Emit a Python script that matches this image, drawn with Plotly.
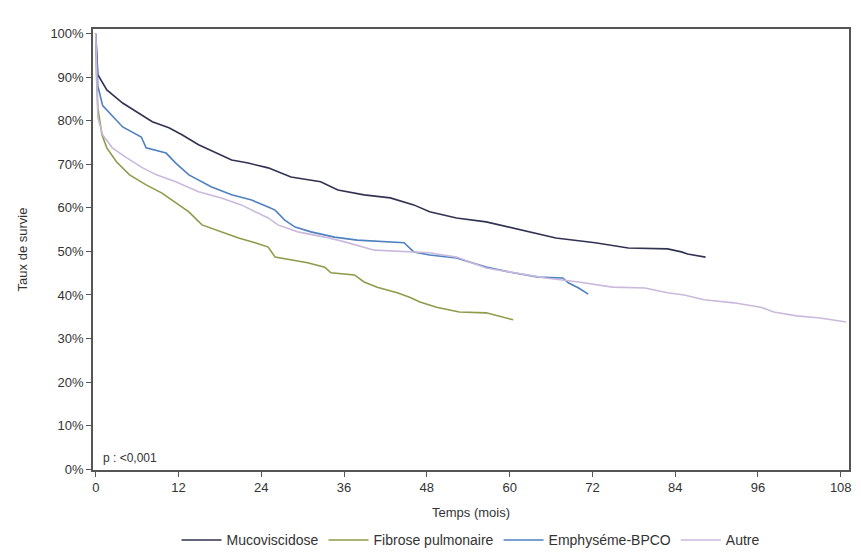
import plotly.graph_objects as go

# --- Data (months, survival %) ---
muco_t = [0, 0.3, 1.6, 3.9, 5.9, 8.2, 10.6, 12.5, 14.9, 17.4, 19.7, 22.1, 25.0, 28.3, 32.6, 35.1,
          38.9, 42.7, 46.1, 48.4, 52.3, 56.6, 61.9, 66.7, 72.4, 77.2, 82.9, 84.9, 85.8, 88.4]
muco_s = [100, 90.6, 87.1, 84.1, 82.1, 79.8, 78.4, 76.8, 74.5, 72.6, 71.0, 70.3, 69.2, 67.1, 66.0, 64.1,
          63.0, 62.3, 60.7, 59.1, 57.7, 56.8, 54.9, 53.1, 52.0, 50.8, 50.6, 49.9, 49.4, 48.7]

fibro_t = [0, 0.1, 0.3, 0.9, 1.6, 3.0, 4.9, 7.3, 9.6, 11.6, 13.5, 15.4, 18.2, 20.7, 23.1, 25.0, 26.0,
           28.9, 30.7, 33.2, 34.1, 37.5, 38.9, 40.8, 43.7, 45.5, 47.0, 49.4, 52.7, 56.6, 59.0, 60.5]
fibro_s = [100, 90.6, 83.0, 76.8, 73.8, 70.6, 67.6, 65.3, 63.4, 61.1, 59.1, 56.1, 54.5, 53.1, 52.0, 51.0, 48.7,
           48.0, 47.4, 46.4, 45.1, 44.6, 43.0, 41.8, 40.5, 39.5, 38.4, 37.2, 36.1, 35.9, 35.0, 34.3]

emph_t = [0, 0.3, 1.0, 2.0, 3.9, 6.6, 7.3, 10.2, 11.6, 13.5, 16.8, 19.7, 22.6, 25.0, 26.0, 27.4, 28.9,
          31.2, 34.6, 37.9, 41.8, 44.7, 46.1, 48.4, 52.3, 56.6, 60.5, 64.2, 67.7, 68.5, 70.0, 71.4]
emph_s = [100, 88.0, 83.5, 81.8, 78.6, 76.3, 73.8, 72.6, 70.3, 67.6, 64.8, 63.0, 61.8, 60.2, 59.5, 57.2, 55.6,
          54.5, 53.3, 52.6, 52.2, 52.0, 49.9, 49.2, 48.5, 46.4, 45.1, 44.1, 43.9, 42.8, 41.6, 40.2]

autre_t = [0, 0.3, 1.0, 2.4, 4.5, 6.8, 8.8, 11.6, 14.9, 18.2, 21.1, 25.0, 26.4, 29.3, 33.2, 36.1,
           40.4, 45.1, 48.4, 52.3, 56.6, 65.2, 70.0, 74.9, 79.6, 82.9, 85.3, 88.2, 92.5, 96.4, 98.3,
           101.6, 105.0, 108.8]
autre_s = [100, 80.7, 76.8, 73.8, 71.5, 69.2, 67.6, 66.0, 63.7, 62.3, 60.7, 57.7, 56.1, 54.5, 53.3, 52.2,
           50.3, 49.9, 49.7, 48.7, 46.2, 43.9, 43.0, 41.8, 41.6, 40.5, 40.0, 38.9, 38.2, 37.2, 36.1,
           35.2, 34.7, 33.8]

x_ticks = [0, 12, 24, 36, 48, 60, 72, 84, 96, 108]
y_ticks = [0, 10, 20, 30, 40, 50, 60, 70, 80, 90, 100]
y_labels = [f"{v}%" for v in y_ticks]

series = [
    ("Mucoviscidose", muco_t, muco_s, "#313352"),
    ("Fibrose pulmonaire", fibro_t, fibro_s, "#8d9b4a"),
    ("Emphyséme-BPCO", emph_t, emph_s, "#4f80c0"),
    ("Autre", autre_t, autre_s, "#cbb9dd"),
]

fig = go.Figure()
for name, t, s, c in series:
    fig.add_trace(go.Scatter(x=t, y=s, mode="lines", name=name,
                             line=dict(color=c, width=1.6)))

font_family = "Liberation Sans, Arial, sans-serif"
fig.update_layout(
    width=845, height=541,
    margin=dict(l=85, r=2, t=21, b=79),
    paper_bgcolor="white", plot_bgcolor="white",
    font=dict(family=font_family, size=13, color="#333333"),
    showlegend=True,
    legend=dict(orientation="h", x=0.5, xanchor="center",
                yref="container", y=0.016, yanchor="middle",
                font=dict(size=14, color="#333333"), itemwidth=40,
                traceorder="normal"),
    xaxis=dict(range=[-0.4, 109.2], tickmode="array", tickvals=x_ticks,
               ticks="outside", ticklen=5, tickwidth=1.2, tickcolor="#555555",
               tickfont=dict(size=13),
               showline=True, linecolor="#555555", linewidth=1.5, mirror=True,
               showgrid=False, zeroline=False,
               title=dict(text="Temps (mois)", font=dict(size=13), standoff=14)),
    yaxis=dict(range=[-0.2, 101.1], tickmode="array", tickvals=y_ticks, ticktext=y_labels,
               ticks="outside", ticklen=5, tickwidth=1.2, tickcolor="#555555",
               tickfont=dict(size=13),
               showline=True, linecolor="#555555", linewidth=1.5, mirror=True,
               showgrid=False, zeroline=False,
               title=dict(text="Taux de survie", font=dict(size=13), standoff=20)),
    annotations=[dict(text="p : <0,001", x=0.8, y=2.5, xref="x", yref="y",
                      xanchor="left", yanchor="middle", showarrow=False,
                      font=dict(size=12, color="#333333"))],
)

fig.write_html("out.html")
